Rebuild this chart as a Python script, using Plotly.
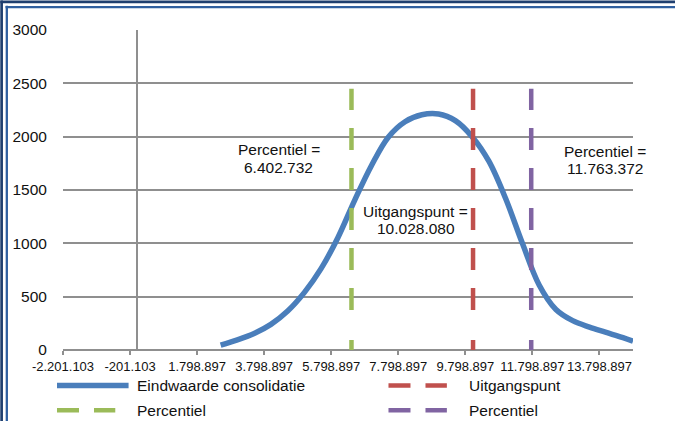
import plotly.graph_objects as go

# ---- data -------------------------------------------------------------
# Distribution of the simulated end value (x in euro, y = frequency)
eindwaarde_x = [2500000, 3000000, 3500000, 4000000, 4500000, 5000000, 5500000,
                6000000, 6500000, 7000000, 7500000, 8000000, 8500000, 9000000,
                9500000, 10000000, 10500000, 11000000, 11500000, 12000000,
                12500000, 13000000, 13500000, 14000000, 14500000, 14800000]
eindwaarde_y = [45, 95, 155, 240, 365, 540, 765,
                1055, 1405, 1730, 1995, 2140, 2205, 2212,
                2150, 2000, 1770, 1420, 1000, 610,
                380, 275, 215, 165, 115, 82]

# Reference lines: starting point and the two percentiles
uitgangspunt = 10028080
percentiel_laag = 6402732
percentiel_hoog = 11763372
lijn_hoogte = [0, 2450]

x_ticks = [-2201103, -201103, 1798897, 3798897, 5798897,
           7798897, 9798897, 11798897, 13798897]
x_range = [-2201103, 14798897]
y_ticks = [0, 500, 1000, 1500, 2000, 2500, 3000]

series_names = ["Eindwaarde consolidatie", "Uitgangspunt", "Percentiel", "Percentiel"]

# ---- styling ------------------------------------------------------------
W, H = 675, 421
PLOT_L, PLOT_R, PLOT_T, PLOT_B = 62.7, 632.9, 29.5, 350.5
FONT = "Liberation Sans, Arial, sans-serif"
TXT = "#111111"
GRID = "#8f8f8f"
BLUE = "#4a7ebb"
RED = "#c0504d"
GREEN = "#9bbb59"
PURPLE = "#8064a2"
DASH = "10px,30px,22px,18px,22px,18px,22px,18px,22px,18px,22px,18px,22px,18px"


def nl(v):
    """Format an integer with Dutch thousands separators."""
    s = f"{abs(int(round(v))):,}".replace(",", ".")
    return ("-" if v < 0 else "") + s


def px_x(px):
    return (px - PLOT_L) / (PLOT_R - PLOT_L)


def px_y(py):
    return (PLOT_B - py) / (PLOT_B - PLOT_T)


fig = go.Figure()

fig.add_trace(go.Scatter(
    x=eindwaarde_x, y=eindwaarde_y, mode="lines", name=series_names[0],
    line=dict(color=BLUE, width=5.5, shape="spline", smoothing=1.0),
    showlegend=False))

for val, col, name in [(uitgangspunt, RED, series_names[1]),
                       (percentiel_laag, GREEN, series_names[2]),
                       (percentiel_hoog, PURPLE, series_names[3])]:
    fig.add_trace(go.Scatter(
        x=[val, val], y=lijn_hoogte, mode="lines", name=name,
        line=dict(color=col, width=4.5, dash=DASH), showlegend=False))

annotations = []


def text_at(txt, cx, baseline, size=15.5, anchor="center"):
    annotations.append(dict(
        text=txt, xref="paper", yref="paper", x=px_x(cx), y=px_y(baseline - 5.2),
        xanchor=anchor, yanchor="middle", showarrow=False,
        font=dict(family=FONT, size=size, color=TXT)))


# value labels beside the reference lines
text_at("Percentiel =", 278.7, 155)
text_at(nl(percentiel_laag), 278.7, 172.7)
text_at("Uitgangspunt =", 415.8, 217)
text_at(nl(uitgangspunt), 415.6, 234)
text_at("Percentiel =", 605, 156.7)
text_at(nl(percentiel_hoog), 605, 173.3)

# hand-drawn legend (two columns)
shapes = []
legend_rows = [
    (series_names[0], BLUE, None, 56.7, 128.3, 386, 134.3, 391.7),
    (series_names[1], RED, "22px,15px", 388.3, 446.7, 386, 466.7, 391.7),
    (series_names[2], GREEN, "22px,15px", 56.7, 115.0, 411, 134.3, 416.5),
    (series_names[3], PURPLE, "22px,15px", 388.3, 446.7, 411, 466.7, 416.5),
]
for name, col, dash, x0, x1, ly, tx, tb in legend_rows:
    shapes.append(dict(
        type="line", xref="paper", yref="paper",
        x0=px_x(x0), x1=px_x(x1), y0=px_y(ly), y1=px_y(ly),
        line=dict(color=col, width=5.5 if dash is None else 4.5,
                  dash=dash if dash else "solid")))
    text_at(name, tx, tb, anchor="left")

# double frame along the left and top edges
for pos, width, col in [(1.3, 2.7, "#1f3f6f"), (6.5, 2.3, "#2f5f9f")]:
    shapes.append(dict(type="line", xref="paper", yref="paper",
                       x0=px_x(pos), x1=px_x(pos), y0=px_y(pos - 1.3), y1=px_y(H + 2),
                       line=dict(color=col, width=width)))
    shapes.append(dict(type="line", xref="paper", yref="paper",
                       x0=px_x(pos - 1.3), x1=px_x(W + 2), y0=px_y(pos), y1=px_y(pos),
                       line=dict(color=col, width=width)))

fig.update_layout(
    width=W, height=H,
    margin=dict(l=PLOT_L, r=W - PLOT_R, t=PLOT_T, b=H - PLOT_B, pad=0),
    paper_bgcolor="white", plot_bgcolor="white",
    showlegend=False,
    annotations=annotations, shapes=shapes,
    font=dict(family=FONT, color=TXT),
    xaxis=dict(
        range=x_range, tickvals=x_ticks, ticktext=[nl(v) for v in x_ticks],
        tickangle=0, showgrid=False,
        zeroline=True, zerolinecolor=GRID, zerolinewidth=2,
        showline=False, ticks="outside", ticklen=4, tickwidth=1.5, tickcolor=GRID,
        tickfont=dict(family=FONT, size=13, color=TXT)),
    yaxis=dict(
        range=[0, 3000], tickvals=y_ticks, ticktext=[str(v) for v in y_ticks],
        showgrid=True, gridcolor=GRID, gridwidth=2,
        zeroline=True, zerolinecolor=GRID, zerolinewidth=2,
        showline=False, ticks="outside", ticklen=12, tickcolor="rgba(0,0,0,0)",
        tickfont=dict(family=FONT, size=15.5, color=TXT)),
)

fig.write_html("out.html")
